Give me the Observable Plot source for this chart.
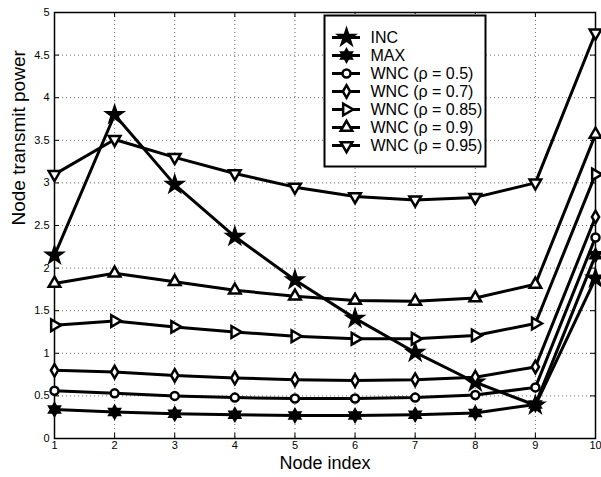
<!DOCTYPE html>
<html>
<head>
<meta charset="utf-8">
<script src="https://cdn.jsdelivr.net/npm/d3@7"></script>
<script src="https://cdn.jsdelivr.net/npm/@observablehq/plot@0.6"></script>
<style>
  html, body { margin: 0; padding: 0; background: white; }
  #wrap { position: relative; width: 601px; height: 477px; }
  #legend { position: absolute; left: 323px; top: 14px; }
</style>
</head>
<body>
<div id="wrap"><div id="chart"></div><div id="legend"></div></div>
<script>
// ---- data ----
const nodeIndex = [1, 2, 3, 4, 5, 6, 7, 8, 9, 10];
const seriesNames = ["INC", "MAX", "WNC (ρ = 0.5)", "WNC (ρ = 0.7)", "WNC (ρ = 0.85)", "WNC (ρ = 0.9)", "WNC (ρ = 0.95)"];
const incValues  = [2.15, 3.80, 2.98, 2.37, 1.86, 1.41, 1.01, 0.66, 0.39, 1.88];
const maxValues  = [0.34, 0.31, 0.29, 0.28, 0.27, 0.27, 0.28, 0.30, 0.40, 2.15];
const w05Values  = [0.56, 0.53, 0.50, 0.48, 0.47, 0.47, 0.48, 0.51, 0.60, 2.36];
const w07Values  = [0.80, 0.78, 0.74, 0.71, 0.69, 0.68, 0.69, 0.72, 0.84, 2.60];
const w085Values = [1.33, 1.38, 1.31, 1.25, 1.20, 1.17, 1.17, 1.21, 1.35, 3.10];
const w09Values  = [1.82, 1.94, 1.84, 1.74, 1.67, 1.62, 1.61, 1.65, 1.81, 3.57];
const w095Values = [3.10, 3.51, 3.30, 3.11, 2.95, 2.84, 2.80, 2.83, 3.00, 4.76];
const xTicks = [1, 2, 3, 4, 5, 6, 7, 8, 9, 10];
const yTicks = [0, 0.5, 1, 1.5, 2, 2.5, 3, 3.5, 4, 4.5, 5];
const xLabel = "Node index";
const yLabel = "Node transmit power";

// ---- marker styles ----
const hexagram = {
  draw(context, size) {
    const R = Math.sqrt(size / Math.PI) * 1.3, r = R / Math.sqrt(3);
    for (let i = 0; i < 12; i++) {
      const a = -Math.PI / 2 + i * Math.PI / 6, rr = i % 2 ? r : R;
      const px = rr * Math.cos(a), py = rr * Math.sin(a);
      if (i === 0) context.moveTo(px, py); else context.lineTo(px, py);
    }
    context.closePath();
  }
};
const markerStyles = [
  {symbol: "star", rotate: 0, fill: "black", r: 4.8},
  {symbol: hexagram, rotate: 0, fill: "black", r: 4.6},
  {symbol: "circle", rotate: 0, fill: "white", r: 4},
  {symbol: "diamond", rotate: 0, fill: "white", r: 3.8},
  {symbol: "triangle", rotate: 90, fill: "white", r: 4.3},
  {symbol: "triangle", rotate: 0, fill: "white", r: 4.3},
  {symbol: "triangle", rotate: 180, fill: "white", r: 4.3}
];
const allValues = [incValues, maxValues, w05Values, w07Values, w085Values, w09Values, w095Values];
const rows = seriesNames.map((name, s) => nodeIndex.map((x, i) => ({series: name, x, y: allValues[s][i]})));

const font = "'Liberation Sans', Arial, Helvetica, sans-serif";
const W = 601, H = 477, mL = 54, mR = 6, mT = 12, mB = 39;
const fw = W - mL - mR, fh = H - mT - mB, tk = 5;
const fmt = d => String(d);

const chart = Plot.plot({
  width: W, height: H,
  marginLeft: mL, marginRight: mR, marginTop: mT, marginBottom: mB,
  x: {domain: [1, 10]},
  y: {domain: [0, 5]},
  style: {fontFamily: font, fontSize: "11px", background: "white", color: "black"},
  marks: [
    Plot.gridX(xTicks.slice(1, -1), {stroke: "#666", strokeOpacity: 1, strokeWidth: 1, strokeDasharray: "1,3"}),
    Plot.gridY(yTicks.slice(1, -1), {stroke: "#666", strokeOpacity: 1, strokeWidth: 1, strokeDasharray: "1,3"}),
    Plot.tickX(xTicks, {x: d => d, insetTop: fh - tk, stroke: "black", strokeWidth: 1}),
    Plot.tickX(xTicks, {x: d => d, insetBottom: fh - tk, stroke: "black", strokeWidth: 1}),
    Plot.tickY(yTicks, {y: d => d, insetRight: fw - tk, stroke: "black", strokeWidth: 1}),
    Plot.tickY(yTicks, {y: d => d, insetLeft: fw - tk, stroke: "black", strokeWidth: 1}),
    Plot.axisX(xTicks, {anchor: "bottom", tickSize: 0, tickPadding: 3, label: null, fontSize: 11, tickFormat: fmt}),
    Plot.axisY(yTicks, {anchor: "left", tickSize: 0, tickPadding: 5, label: null, fontSize: 11, tickFormat: fmt}),
    Plot.frame({stroke: "black", strokeWidth: 1.5}),
    ...rows.map(r => Plot.line(r, {x: "x", y: "y", stroke: "black", strokeWidth: 3, strokeLinejoin: "round"})),
    ...rows.map((r, s) => Plot.dot(r, {x: "x", y: "y", symbol: markerStyles[s].symbol, rotate: markerStyles[s].rotate,
      fill: markerStyles[s].fill, r: markerStyles[s].r, stroke: "black", strokeWidth: 2.5})),
    Plot.text([yLabel], {frameAnchor: "left", dx: -36, rotate: -90, fontSize: 19}),
    Plot.text([xLabel], {frameAnchor: "bottom", dy: 30, fontSize: 18})
  ]
});
document.getElementById("chart").append(chart);

// ---- legend ----
const LW = 163, LH = 153;
const legX1 = 9, legX2 = 37, legMark = 23, legText = 47;
const legend = Plot.plot({
  width: LW, height: LH, margin: 0,
  x: {domain: [0, LW], range: [0, LW], axis: null},
  y: {type: "point", domain: seriesNames, range: [12.5, 140.5], axis: null},
  style: {fontFamily: font, background: "white", color: "black", overflow: "visible"},
  marks: [
    Plot.frame({stroke: "black", strokeWidth: 2, inset: 1, fill: "white"}),
    Plot.ruleY(seriesNames, {y: d => d, x1: () => legX1, x2: () => legX2, stroke: "black", strokeWidth: 3}),
    ...seriesNames.map((name, s) => Plot.dot([name], {x: () => legMark, y: d => d, symbol: markerStyles[s].symbol,
      rotate: markerStyles[s].rotate, fill: markerStyles[s].fill, r: markerStyles[s].r, stroke: "black", strokeWidth: 2.5})),
    Plot.text(seriesNames, {x: () => legText, y: d => d, text: d => d, textAnchor: "start", fontSize: 16})
  ]
});
document.getElementById("legend").append(legend);
</script>
</body>
</html>
